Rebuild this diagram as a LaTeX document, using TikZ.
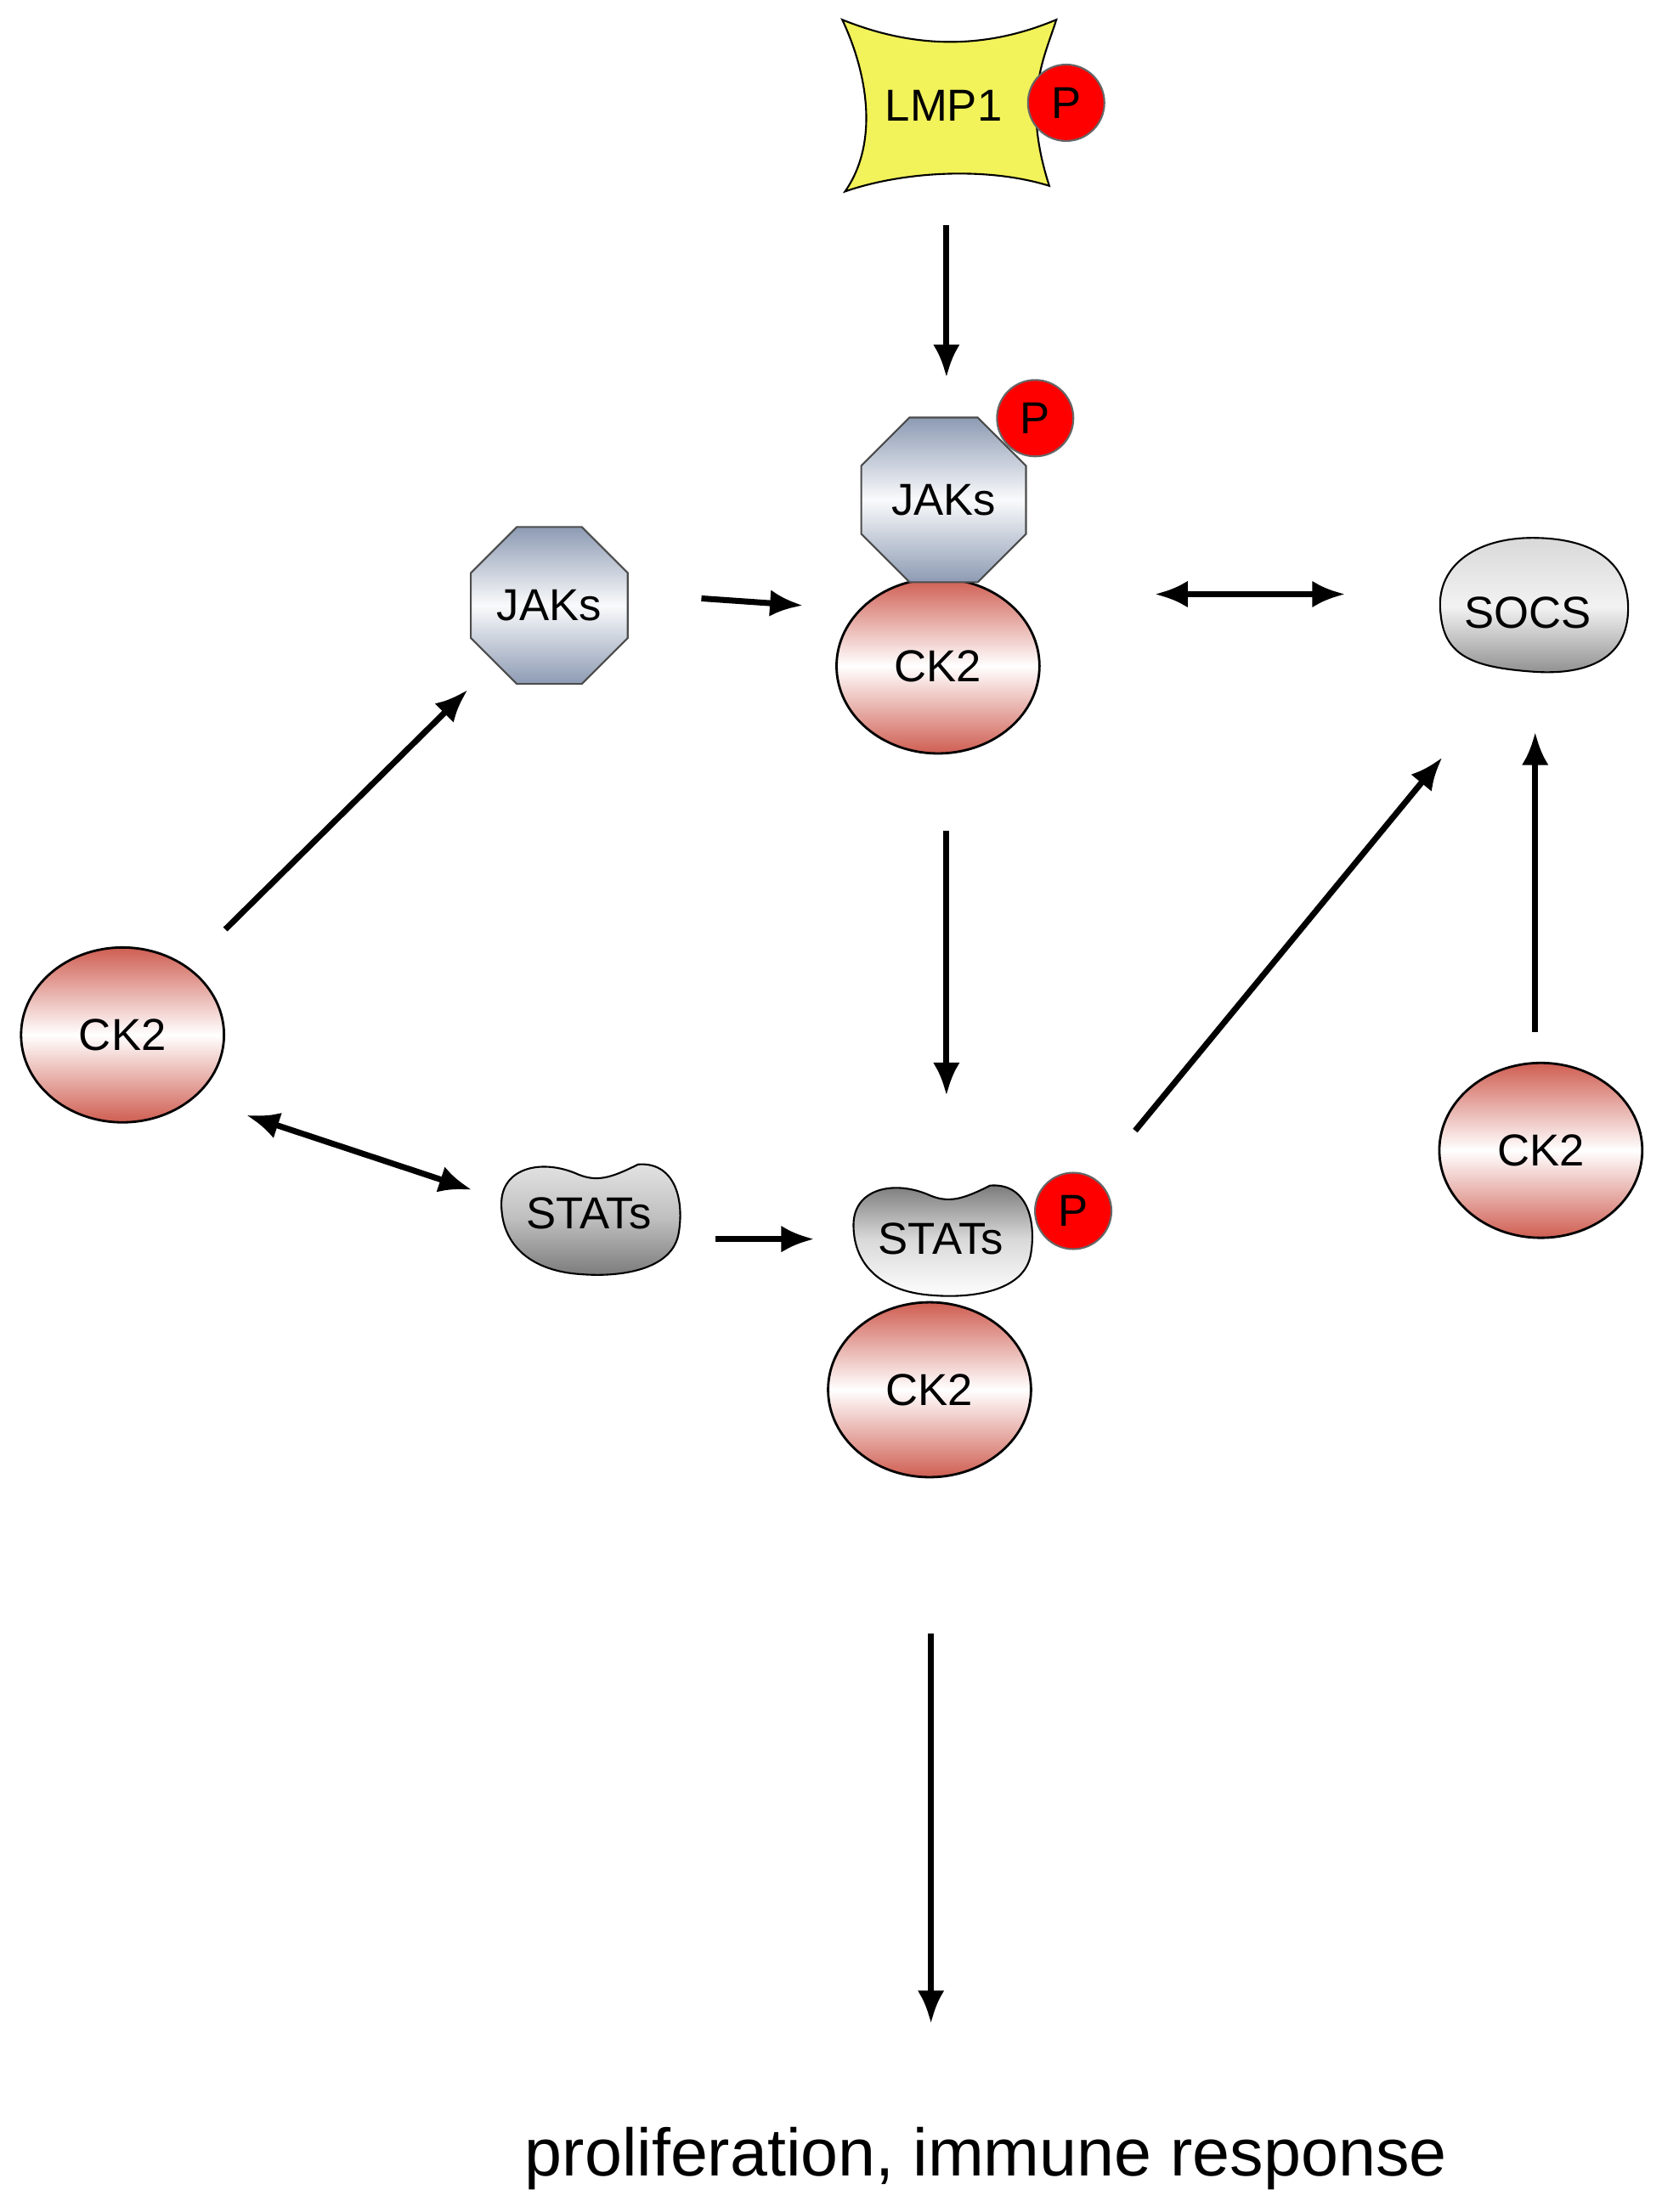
\documentclass[tikz,border=0pt]{standalone}
\usepackage{fontspec}
\setmainfont{Liberation Sans}
\usetikzlibrary{shapes.geometric,arrows.meta}
\definecolor{ckred}{HTML}{CF5E52}
\definecolor{jakb}{HTML}{8D9BB3}
\definecolor{statg}{HTML}{7A7A7A}
\definecolor{lmpy}{HTML}{F2F25A}
\begin{document}
\begin{tikzpicture}[x=0.01658cm,y=-0.01658cm,
  lbl/.style={font=\fontsize{15}{18}\selectfont},
  ck2/.style={ellipse,draw=black,line width=0.8pt,minimum width=2.39cm,minimum height=2.06cm,top color=ckred,bottom color=ckred,middle color=white,lbl},
  jak/.style={regular polygon,regular polygon sides=8,draw=black!70,line width=0.6pt,minimum size=2.1cm,inner sep=0pt,top color=jakb,bottom color=jakb,middle color=white!95!jakb,lbl},
  pho/.style={circle,fill=red,draw=black!60,line width=0.6pt,minimum size=0.9cm,inner sep=0pt,lbl},
  arr/.style={line width=2pt,-{Latex[length=11pt,width=9pt]}},
  darr/.style={line width=2pt,{Latex[length=11pt,width=9pt]}-{Latex[length=11pt,width=9pt]}}]
\useasboundingbox (0,0) rectangle (1180,1571);
% LMP1
\draw[line width=0.6pt,fill=lmpy] (598,14) .. controls (650,35) and (700,35) .. (750,14) .. controls (742,40) and (725,70) .. (745,132) .. controls (700,118) and (640,122) .. (600,136) .. controls (625,100) and (615,50) .. (598,14) -- cycle;
\node[lbl] (lmp) at (670,75) {LMP1};
\node[pho] (p1) at (757,73) {P};
% top JAK/CK2 complex
\node[ck2] (ck2t) at (666,473) {CK2};
\node[jak] (jakt) at (670,355) {JAKs};
\node[pho] (p2) at (735,297) {P};
% left JAKs
\node[jak,minimum size=2cm] (jakl) at (390,430) {JAKs};
% SOCS
\begin{scope}[shift={(1088,432)}]
\draw[line width=0.6pt,top color=white!85!black,bottom color=black!45,middle color=white!95!black]
 (-65,5) .. controls (-70,-30) and (-40,-50) .. (0,-50) .. controls (40,-50) and (68,-35) .. (68,0) .. controls (68,35) and (40,48) .. (0,45) .. controls (-40,42) and (-62,35) .. (-65,5) -- cycle;
\end{scope}
\node[lbl] (socs) at (1085,435) {SOCS};
% CK2s
\node[ck2] (ck2l) at (87,735) {CK2};
\node[ck2] (ck2r) at (1094,817) {CK2};
\node[ck2] (ck2b) at (660,987) {CK2};
% STATs left
\begin{scope}[shift={(418,865)}]
\draw[line width=0.6pt,top color=white!90!black,bottom color=statg,middle color=white!75!black]
 (-62,-10) .. controls (-62,-35) and (-35,-42) .. (-10,-32) .. controls (5,-25) and (15,-28) .. (35,-38) .. controls (60,-40) and (68,-15) .. (64,10) .. controls (60,38) and (20,42) .. (-5,40) .. controls (-40,38) and (-62,20) .. (-62,-10) -- cycle;
\end{scope}
\node[lbl] (statl) at (418,862) {STATs};
% STATs center
\begin{scope}[shift={(668,880)}]
\draw[line width=0.6pt,top color=black!55,bottom color=white,middle color=white!85!black]
 (-62,-10) .. controls (-62,-35) and (-35,-42) .. (-10,-32) .. controls (5,-25) and (15,-28) .. (35,-38) .. controls (60,-40) and (68,-15) .. (64,10) .. controls (60,38) and (20,42) .. (-5,40) .. controls (-40,38) and (-62,20) .. (-62,-10) -- cycle;
\end{scope}
\node[lbl] (statc) at (668,880) {STATs};
\node[pho] (p3) at (762,860) {P};
% arrow endpoints
\coordinate (a1) at (672,160); \coordinate (a2) at (672,268);
\coordinate (b1) at (498,425); \coordinate (b2) at (570,430);
\coordinate (c1) at (820,422); \coordinate (c2) at (955,422);
\coordinate (d1) at (160,660); \coordinate (d2) at (332,490);
\coordinate (e1) at (672,590); \coordinate (e2) at (672,778);
\coordinate (f1) at (175,792); \coordinate (f2) at (335,845);
\coordinate (g1) at (508,880); \coordinate (g2) at (578,880);
\coordinate (h1) at (806,803); \coordinate (h2) at (1024,538);
\coordinate (i1) at (1090,733); \coordinate (i2) at (1090,520);
\coordinate (j1) at (661,1160); \coordinate (j2) at (661,1437);
\draw[arr] (a1) -- (a2);
\draw[arr] (b1) -- (b2);
\draw[darr] (c1) -- (c2);
\draw[arr] (d1) -- (d2);
\draw[arr] (e1) -- (e2);
\draw[darr] (f1) -- (f2);
\draw[arr] (g1) -- (g2);
\draw[arr] (h1) -- (h2);
\draw[arr] (i1) -- (i2);
\draw[arr] (j1) -- (j2);
\node[font=\fontsize{22.5}{27}\selectfont] (out) at (700,1533) {proliferation, immune response};
\end{tikzpicture}
\end{document}
